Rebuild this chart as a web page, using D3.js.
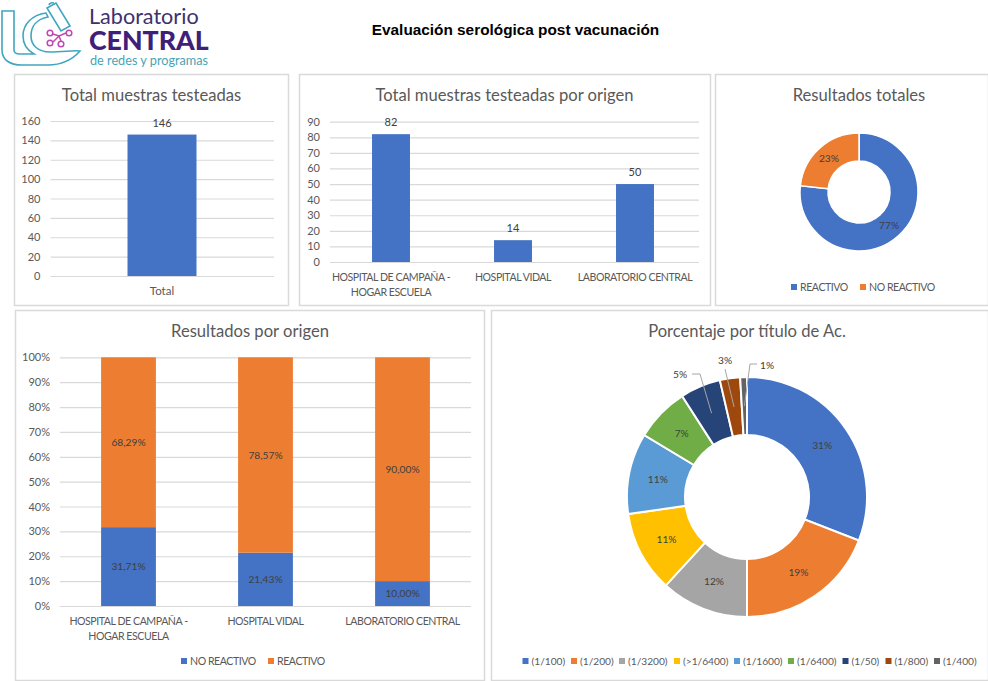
<!DOCTYPE html>
<html>
<head>
<meta charset="utf-8">
<script src="https://cdnjs.cloudflare.com/ajax/libs/d3/7.8.5/d3.min.js"></script>
<style>
html, body { margin: 0; padding: 0; background: #fff; }
svg { display: block; }
text { font-family: Lato, "Open Sans", sans-serif; fill: #595959; }
</style>
</head>
<body>
<svg id="chart" width="988" height="681"></svg>
<script>
// chart data
var totalCats = ["Total"];
var totalVals = [146];
var totalTicks = [0, 20, 40, 60, 80, 100, 120, 140, 160];

var origenCats = [["HOSPITAL DE CAMPAÑA -", "HOGAR ESCUELA"], ["HOSPITAL VIDAL"], ["LABORATORIO CENTRAL"]];
var origenVals = [82, 14, 50];
var origenTicks = [0, 10, 20, 30, 40, 50, 60, 70, 80, 90];

var resultCats = ["REACTIVO", "NO REACTIVO"];
var resultVals = [112, 34];

var noReactivo = [31.71, 21.43, 10.00];
var reactivo = [68.29, 78.57, 90.00];
var pctTicks = [0, 10, 20, 30, 40, 50, 60, 70, 80, 90, 100];

var tituloCats = ["(1/100)", "(1/200)", "(1/3200)", "(>1/6400)", "(1/1600)", "(1/6400)", "(1/50)", "(1/800)", "(1/400)"];
var tituloVals = [34, 21, 13, 12, 12, 8, 6, 3, 1];
var tituloColors = ["#4472c4", "#ed7d31", "#a5a5a5", "#ffc000", "#5b9bd5", "#70ad47", "#264478", "#9e480e", "#636363"];

var blue = "#4472c4", orange = "#ed7d31", grid = "#d9d9d9", dark = "#404040";
var smallFont = "10.2px";

var svg = d3.select("#chart");

// panel frame + title
function panel(x, y, w, h, title, titleY, titleX) {
    svg.append("rect").attr("x", x).attr("y", y).attr("width", w).attr("height", h)
        .attr("fill", "#fff").attr("stroke", "#d9d9d9").attr("stroke-width", 1.5);
    svg.append("text").attr("x", titleX).attr("y", titleY).attr("text-anchor", "middle")
        .style("font-size", "16.6px").text(title);
}

// y axis with the gridlines, uses d3 axis
function yAxis(y, left, right, ticks, fmt) {
    var g = svg.append("g").attr("transform", "translate(" + left + ",0)")
        .call(d3.axisLeft(y).tickValues(ticks).tickSize(-(right - left)).tickPadding(10).tickFormat(fmt));
    g.select(".domain").remove();
    g.selectAll("line").attr("stroke", grid).attr("stroke-width", 1.2);
    g.selectAll("text").style("font-size", "11px").style("font-family", "Lato");
}

// category labels under the bars, some have 2 lines
// caps run wide in this font so they get squeezed a bit
function xLabels(x, cats, top, gap) {
    cats.forEach(function(c, i) {
        var lines = Array.isArray(c) ? c : [c];
        lines.forEach(function(l, j) {
            var t = svg.append("text").attr("x", x(i) + x.bandwidth() / 2).attr("y", top + j * gap)
                .attr("text-anchor", "middle").text(l);
            if (l === l.toUpperCase()) t.style("font-size", "10.6px").style("letter-spacing", "-0.45px");
            else t.style("font-size", "11.5px");
        });
    });
}

function legendItem(x, y, color, label) {
    svg.append("rect").attr("x", x).attr("y", y - 3).attr("width", 6).attr("height", 6).attr("fill", color);
    var t = svg.append("text").attr("x", x + 9).attr("y", y + 4).text(label);
    if (label.charAt(0) === "(") t.style("font-size", smallFont);
    else t.style("font-size", "10.6px").style("letter-spacing", "-0.45px");
}

// logo
function logo() {
    var teal = "#41a6bf";
    var g = svg.append("g").attr("fill", "none").attr("stroke", teal).attr("stroke-width", 1.6);
    g.append("path").attr("d", "M2 11 H14 V50 Q14 54 20 54 H34 C27 50 23 44 23 36 C23 24 32 15 46 13 L48 17 C37 19 31 26 31 36 C31 46 39 52 50 52 C64 52 74 50 80 51 C72 60 60 65 48 65 H22 C10 65 2 60 2 50 Z");
    g.append("path").attr("d", "M47 8 L56 3 L70 26 L61 31 Z");
    g.append("path").attr("d", "M49 5 Q50 2 54 3");
    var m = svg.append("g").attr("fill", "none").attr("stroke", "#c048b0").attr("stroke-width", 1.5);
    m.append("circle").attr("cx", 50).attr("cy", 33).attr("r", 2.8);
    m.append("circle").attr("cx", 69).attr("cy", 33).attr("r", 2.8);
    m.append("circle").attr("cx", 50).attr("cy", 43).attr("r", 2.8);
    m.append("circle").attr("cx", 61).attr("cy", 44).attr("r", 2.8);
    m.append("path").attr("d", "M53 34 L59 36 L66 33 M59 36 L61 41 M59 36 L53 42");
    svg.append("text").attr("x", 89).attr("y", 24).style("font-size", "21.6px").style("fill", "#41306e").text("Laboratorio");
    svg.append("text").attr("x", 89).attr("y", 50).style("font-size", "26.7px").style("font-weight", "900").style("fill", "#3f1f78").text("CENTRAL");
    svg.append("text").attr("x", 90).attr("y", 64.5).style("font-size", "12.7px").style("fill", "#4aa3b5").text("de redes y programas");
}
logo();

svg.append("text").attr("x", 515.5).attr("y", 34.5).attr("text-anchor", "middle")
    .style("font-family", "Liberation Sans").style("font-weight", "bold").style("font-size", "15.35px").style("fill", "#000")
    .text("Evaluación serológica post vacunación");

// 1. total
panel(14.5, 74.5, 274, 231, "Total muestras testeadas", 101, 151.5);
var y1 = d3.scaleLinear().domain([0, 160]).range([276, 121]);
var x1 = d3.scaleBand().domain(d3.range(totalCats.length)).range([50, 274]).paddingInner(0.692).paddingOuter(0.346);
yAxis(y1, 50.5, 274, totalTicks, d3.format("d"));
svg.selectAll(null).data(totalVals).enter().append("rect")
    .attr("x", function(d, i) { return x1(i); }).attr("width", x1.bandwidth())
    .attr("y", function(d) { return y1(d); }).attr("height", function(d) { return y1(0) - y1(d); }).attr("fill", blue);
svg.selectAll(null).data(totalVals).enter().append("text")
    .attr("x", function(d, i) { return x1(i) + x1.bandwidth() / 2; }).attr("y", function(d) { return y1(d) - 8; })
    .attr("text-anchor", "middle").style("font-size", "11px").style("fill", dark).text(function(d) { return d; });
xLabels(x1, totalCats, 295, 15);

// 2. por origen
panel(299.5, 74.5, 411, 231, "Total muestras testeadas por origen", 101, 504.5);
var y2 = d3.scaleLinear().domain([0, 90]).range([262, 121.7]);
var x2 = d3.scaleBand().domain(d3.range(origenCats.length)).range([330, 696]).paddingInner(0.689).paddingOuter(0.3445);
yAxis(y2, 330, 699, origenTicks, d3.format("d"));
svg.selectAll(null).data(origenVals).enter().append("rect")
    .attr("x", function(d, i) { return x2(i); }).attr("width", x2.bandwidth())
    .attr("y", function(d) { return y2(d); }).attr("height", function(d) { return y2(0) - y2(d); }).attr("fill", blue);
svg.selectAll(null).data(origenVals).enter().append("text")
    .attr("x", function(d, i) { return x2(i) + x2.bandwidth() / 2; }).attr("y", function(d) { return y2(d) - 8; })
    .attr("text-anchor", "middle").style("font-size", "11px").style("fill", dark).text(function(d) { return d; });
xLabels(x2, origenCats, 281, 15);

// 3. resultados totales
panel(715.5, 74.5, 273, 231, "Resultados totales", 101, 859);
var pie = d3.pie().sort(null).value(function(d) { return d; });
var arc3 = d3.arc().innerRadius(31).outerRadius(59);
var g3 = svg.append("g").attr("transform", "translate(859,192)");
var slices3 = pie(resultVals);
var pctOf = function(vals) {
    var t = d3.sum(vals);
    return function(d) { return Math.round(d.data / t * 100) + "%"; };
};
g3.selectAll("path").data(slices3).enter().append("path")
    .attr("d", arc3).attr("fill", function(d, i) { return [blue, orange][i]; })
    .attr("stroke", "#fff").attr("stroke-width", 1.5);
g3.selectAll("text").data(slices3).enter().append("text")
    .attr("transform", function(d) { return "translate(" + arc3.centroid(d) + ")"; })
    .attr("text-anchor", "middle").attr("dy", "0.35em").style("font-size", smallFont).style("fill", dark)
    .text(pctOf(resultVals));
legendItem(791, 287, blue, resultCats[0]);
legendItem(860, 287, orange, resultCats[1]);

// 4. resultados por origen
panel(15.5, 310.5, 469, 370, "Resultados por origen", 337, 250);
var y4 = d3.scaleLinear().domain([0, 100]).range([606, 357.3]);
var x4 = d3.scaleBand().domain(d3.range(origenCats.length)).range([60, 471]).paddingInner(0.6).paddingOuter(0.3);
yAxis(y4, 60, 471, pctTicks, function(d) { return d + "%"; });
var stackRows = noReactivo.map(function(v, i) { return { no: v, si: reactivo[i] }; });
var stacked = d3.stack().keys(["no", "si"])(stackRows);
var fmtPct = function(v) { return v.toFixed(2).replace(".", ",") + "%"; };
stacked.forEach(function(s, k) {
    svg.selectAll(null).data(s).enter().append("rect")
        .attr("x", function(d, i) { return x4(i); }).attr("width", x4.bandwidth())
        .attr("y", function(d) { return y4(d[1]); }).attr("height", function(d) { return y4(d[0]) - y4(d[1]); })
        .attr("fill", [blue, orange][k]);
    svg.selectAll(null).data(s).enter().append("text")
        .attr("x", function(d, i) { return x4(i) + x4.bandwidth() / 2; })
        .attr("y", function(d) { return y4((d[0] + d[1]) / 2); }).attr("dy", "0.35em")
        .attr("text-anchor", "middle").style("font-size", smallFont).style("fill", dark)
        .text(function(d) { return fmtPct(d[1] - d[0]); });
});
xLabels(x4, origenCats, 625, 14.5);
legendItem(181, 661, blue, "NO REACTIVO");
legendItem(268, 661, orange, "REACTIVO");

// 5. porcentaje por titulo
panel(491.5, 310.5, 497, 370, "Porcentaje por título de Ac.", 337, 747);
var arc5 = d3.arc().innerRadius(62).outerRadius(120);
var g5 = svg.append("g").attr("transform", "translate(747,497)");
var slices5 = pie(tituloVals);
g5.selectAll("path").data(slices5).enter().append("path")
    .attr("d", arc5).attr("fill", function(d, i) { return tituloColors[i]; })
    .attr("stroke", "#fff").attr("stroke-width", 2);
// the 3 small slices have their label outside with a leader line
var outsideLabel = { 6: [-67, -123, "M-55 -123 H-47"], 7: [-22, -137, "M-22 -128"], 8: [20, -132, "M10 -133 H3"] };
g5.selectAll("text").data(slices5).enter().append("text")
    .attr("transform", function(d, i) {
        var p = outsideLabel[i] ? outsideLabel[i] : arc5.centroid(d);
        return "translate(" + p[0] + "," + p[1] + ")";
    })
    .attr("text-anchor", "middle").attr("dy", "0.35em").style("font-size", smallFont).style("fill", dark)
    .text(pctOf(tituloVals));
slices5.forEach(function(d, i) {
    if (!outsideLabel[i]) return;
    var c = arc5.centroid(d);
    g5.append("path").attr("d", outsideLabel[i][2] + " L" + c[0] + " " + c[1])
        .attr("fill", "none").attr("stroke", "#a6a6a6").attr("stroke-width", 1);
});
var legX = [522.5, 571, 619, 674, 734, 788, 842.5, 885.5, 934];
tituloCats.forEach(function(c, i) { legendItem(legX[i], 661, tituloColors[i], c); });
</script>
</body>
</html>
